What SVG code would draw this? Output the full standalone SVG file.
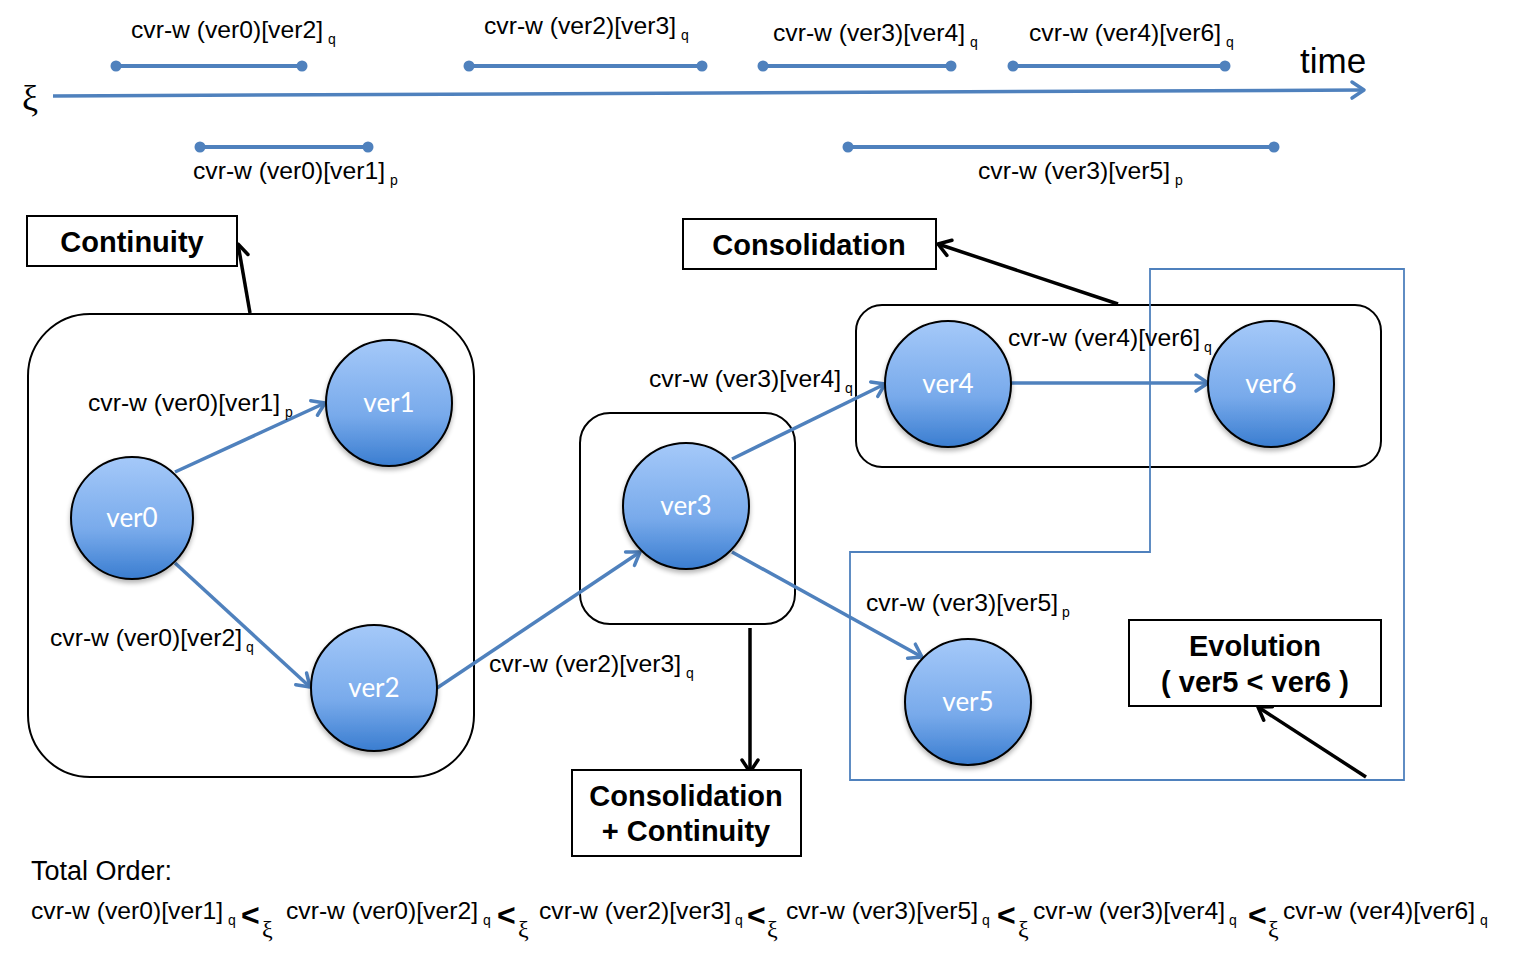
<svg xmlns="http://www.w3.org/2000/svg" width="1519" height="960" viewBox="0 0 1519 960">
<defs>
<linearGradient id="nodeGrad" x1="0" y1="0" x2="0" y2="1">
<stop offset="0" stop-color="#a5c9f9"/>
<stop offset="0.6" stop-color="#78aaeb"/>
<stop offset="1" stop-color="#3a7dd0"/>
</linearGradient>
<filter id="shadow" x="-20%" y="-20%" width="140%" height="150%">
<feGaussianBlur in="SourceAlpha" stdDeviation="2.5"/>
<feOffset dx="0" dy="3" result="b"/>
<feComponentTransfer><feFuncA type="linear" slope="0.3"/></feComponentTransfer>
<feMerge><feMergeNode/><feMergeNode in="SourceGraphic"/></feMerge>
</filter>
<marker id="blueArrow" markerUnits="userSpaceOnUse" markerWidth="24" markerHeight="24" refX="18" refY="12" orient="auto" viewBox="0 0 24 24">
<path d="M6,4 L18,12 L6,20" fill="none" stroke="#4f81bd" stroke-width="3.5" stroke-linecap="round" stroke-linejoin="round"/>
</marker>
<marker id="blackArrow" markerUnits="userSpaceOnUse" markerWidth="24" markerHeight="24" refX="18" refY="12" orient="auto" viewBox="0 0 24 24">
<path d="M6,4 L18,12 L6,20" fill="none" stroke="#000" stroke-width="3.5" stroke-linecap="round" stroke-linejoin="round"/>
</marker>
<marker id="dot" markerUnits="userSpaceOnUse" markerWidth="14" markerHeight="14" refX="7" refY="7" viewBox="0 0 14 14">
<circle cx="7" cy="7" r="5.5" fill="#4f81bd"/>
</marker>
</defs>
<style>
.lbl{font-family:"Liberation Sans",Arial,sans-serif;font-size:24px;fill:#000}
.sub{font-family:"Liberation Sans",Arial,sans-serif;font-size:14px;fill:#000}
.lt{font-family:"Liberation Sans",Arial,sans-serif;font-size:29px;font-weight:bold;fill:#000;text-anchor:middle}
.nt{font-family:Lato,"Open Sans",sans-serif;font-size:26px;fill:#fff;text-anchor:middle}
.node{fill:url(#nodeGrad);stroke:#000;stroke-width:2;filter:url(#shadow)}
.bar{stroke:#4f81bd;stroke-width:4;marker-start:url(#dot);marker-end:url(#dot)}
.edge{stroke:#4f81bd;stroke-width:3.5;fill:none;marker-end:url(#blueArrow)}
.call{stroke:#000;stroke-width:3.5;fill:none;marker-end:url(#blackArrow)}
.box{fill:#fff;stroke:#000;stroke-width:2}
.grp{fill:none;stroke:#000;stroke-width:2}
.lt2{font-family:"Liberation Sans",Arial,sans-serif;font-size:32px;font-weight:bold;fill:#000}
.xi{font-family:"Liberation Serif","DejaVu Serif",serif;font-size:24px;fill:#000}
</style>
<rect width="1519" height="960" fill="#fff"/>

<g id="timeline">
<line x1="53" y1="96" x2="1364" y2="90" stroke="#4f81bd" stroke-width="3.5" marker-end="url(#blueArrow)"/>
<text x="22" y="110" style="font-family:'Liberation Serif','DejaVu Serif',serif;font-size:36px">ξ</text>
<text x="1300" y="73" style="font-family:'Liberation Sans',Arial,sans-serif;font-size:35px">time</text>
<line class="bar" x1="116" y1="66" x2="302" y2="66"/>
<line class="bar" x1="469" y1="66" x2="702" y2="66"/>
<line class="bar" x1="763" y1="66" x2="951" y2="66"/>
<line class="bar" x1="1013" y1="66" x2="1225" y2="66"/>
<line class="bar" x1="200" y1="147" x2="368" y2="147"/>
<line class="bar" x1="848" y1="147" x2="1274" y2="147"/>
<text class="lbl" x="131" y="38" textLength="192" lengthAdjust="spacingAndGlyphs">cvr-w (ver0)[ver2]</text><text class="sub" x="328" y="44">q</text>
<text class="lbl" x="484" y="34" textLength="192" lengthAdjust="spacingAndGlyphs">cvr-w (ver2)[ver3]</text><text class="sub" x="681" y="40">q</text>
<text class="lbl" x="773" y="41" textLength="192" lengthAdjust="spacingAndGlyphs">cvr-w (ver3)[ver4]</text><text class="sub" x="970" y="47">q</text>
<text class="lbl" x="1029" y="41" textLength="192" lengthAdjust="spacingAndGlyphs">cvr-w (ver4)[ver6]</text><text class="sub" x="1226" y="47">q</text>
<text class="lbl" x="193" y="179" textLength="192" lengthAdjust="spacingAndGlyphs">cvr-w (ver0)[ver1]</text><text class="sub" x="390" y="185">p</text>
<text class="lbl" x="978" y="179" textLength="192" lengthAdjust="spacingAndGlyphs">cvr-w (ver3)[ver5]</text><text class="sub" x="1175" y="185">p</text>
</g>

<g id="groups">
<rect id="grp-left" class="grp" x="28" y="314" width="446" height="463" rx="62" ry="62"/>
<rect id="grp-ver3" class="grp" x="580" y="413" width="215" height="211" rx="30" ry="30"/>
<rect id="grp-ver46" class="grp" x="856" y="305" width="525" height="162" rx="26" ry="26"/>
<path id="grp-evolution" d="M1150,269 L1404,269 L1404,780 L850,780 L850,552 L1150,552 Z" fill="none" stroke="#4f81bd" stroke-width="1.8"/>
</g>

<g id="connectors">
<line class="edge" x1="175" y1="472" x2="325" y2="403"/>
<line class="edge" x1="175" y1="563" x2="310" y2="687"/>
<line class="edge" x1="437" y1="688" x2="640" y2="552"/>
<line class="edge" x1="732" y1="459" x2="885" y2="384"/>
<line class="edge" x1="1011" y1="383" x2="1208" y2="383"/>
<line class="edge" x1="732" y1="552" x2="922" y2="657"/>
<line class="call" x1="250" y1="313" x2="238" y2="244"/>
<line class="call" x1="1118" y1="304" x2="938" y2="244"/>
<line class="call" x1="750" y1="628" x2="750" y2="772"/>
<line class="call" x1="1366" y1="777" x2="1258" y2="707"/>
<text class="lbl" x="88" y="411" textLength="192" lengthAdjust="spacingAndGlyphs">cvr-w (ver0)[ver1]</text><text class="sub" x="285" y="417">p</text>
<text class="lbl" x="50" y="646" textLength="192" lengthAdjust="spacingAndGlyphs">cvr-w (ver0)[ver2]</text><text class="sub" x="246" y="652">q</text>
<text class="lbl" x="489" y="672" textLength="192" lengthAdjust="spacingAndGlyphs">cvr-w (ver2)[ver3]</text><text class="sub" x="686" y="678">q</text>
<text class="lbl" x="649" y="387" textLength="192" lengthAdjust="spacingAndGlyphs">cvr-w (ver3)[ver4]</text><text class="sub" x="845" y="393">q</text>
<text class="lbl" x="1008" y="346" textLength="192" lengthAdjust="spacingAndGlyphs">cvr-w (ver4)[ver6]</text><text class="sub" x="1204" y="352">q</text>
<text class="lbl" x="866" y="611" textLength="192" lengthAdjust="spacingAndGlyphs">cvr-w (ver3)[ver5]</text><text class="sub" x="1062" y="617">p</text>
</g>

<g id="ver0"><circle class="node" cx="132" cy="518" r="61"/><text class="nt" x="132" y="527">ver0</text></g>
<g id="ver1"><circle class="node" cx="389" cy="403" r="63"/><text class="nt" x="389" y="412">ver1</text></g>
<g id="ver2"><circle class="node" cx="374" cy="688" r="63"/><text class="nt" x="374" y="697">ver2</text></g>
<g id="ver3"><circle class="node" cx="686" cy="506" r="63"/><text class="nt" x="686" y="515">ver3</text></g>
<g id="ver4"><circle class="node" cx="948" cy="384" r="63"/><text class="nt" x="948" y="393">ver4</text></g>
<g id="ver6"><circle class="node" cx="1271" cy="384" r="63"/><text class="nt" x="1271" y="393">ver6</text></g>
<g id="ver5"><circle class="node" cx="968" cy="702" r="63"/><text class="nt" x="968" y="711">ver5</text></g>

<g id="label-continuity"><rect class="box" x="27" y="216" width="210" height="50"/><text class="lt" x="132" y="252">Continuity</text></g>
<g id="label-consolidation"><rect class="box" x="683" y="219" width="253" height="50"/><text class="lt" x="809" y="255">Consolidation</text></g>
<g id="label-consolidation-continuity"><rect class="box" x="572" y="770" width="229" height="86"/><text class="lt" x="686" y="806">Consolidation</text><text class="lt" x="686" y="841">+ Continuity</text></g>
<g id="label-evolution"><rect class="box" x="1129" y="620" width="252" height="86"/><text class="lt" x="1255" y="656">Evolution</text><text class="lt" x="1255" y="692">( ver5 &lt; ver6 )</text></g>

<g id="total-order">
<text x="31" y="880" style="font-family:'Liberation Sans',Arial,sans-serif;font-size:27px">Total Order:</text>
<text class="lbl" x="31" y="919" textLength="192" lengthAdjust="spacingAndGlyphs">cvr-w (ver0)[ver1]</text><text class="sub" x="228" y="925">q</text>
<text class="lt2" x="241" y="926">&lt;</text><text class="xi" x="262" y="937">ξ</text>
<text class="lbl" x="286" y="919" textLength="192" lengthAdjust="spacingAndGlyphs">cvr-w (ver0)[ver2]</text><text class="sub" x="483" y="925">q</text>
<text class="lt2" x="497" y="926">&lt;</text><text class="xi" x="518" y="937">ξ</text>
<text class="lbl" x="539" y="919" textLength="192" lengthAdjust="spacingAndGlyphs">cvr-w (ver2)[ver3]</text><text class="sub" x="735" y="925">q</text>
<text class="lt2" x="747" y="926">&lt;</text><text class="xi" x="767" y="937">ξ</text>
<text class="lbl" x="786" y="919" textLength="192" lengthAdjust="spacingAndGlyphs">cvr-w (ver3)[ver5]</text><text class="sub" x="982" y="925">q</text>
<text class="lt2" x="997" y="926">&lt;</text><text class="xi" x="1018" y="937">ξ</text>
<text class="lbl" x="1033" y="919" textLength="192" lengthAdjust="spacingAndGlyphs">cvr-w (ver3)[ver4]</text><text class="sub" x="1229" y="925">q</text>
<text class="lt2" x="1248" y="926">&lt;</text><text class="xi" x="1268" y="937">ξ</text>
<text class="lbl" x="1283" y="919" textLength="192" lengthAdjust="spacingAndGlyphs">cvr-w (ver4)[ver6]</text><text class="sub" x="1480" y="925">q</text>
</g>
</svg>
